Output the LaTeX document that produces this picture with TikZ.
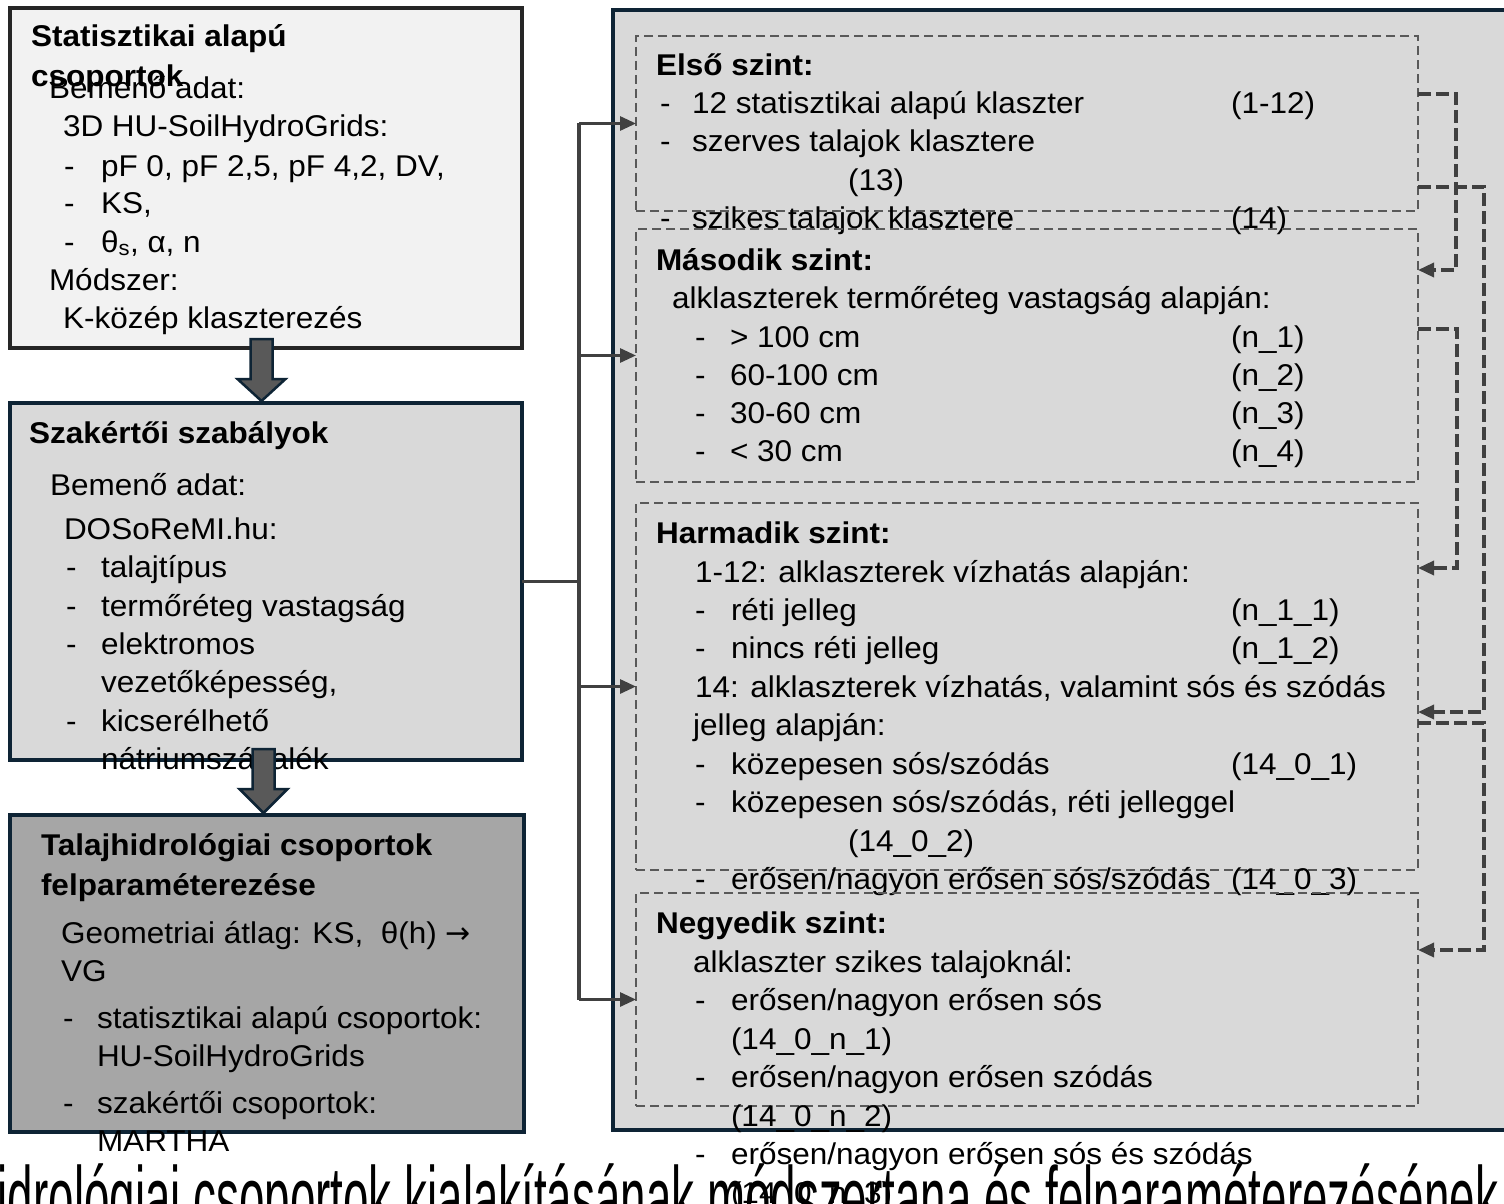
\documentclass[tikz,border=0pt]{standalone}
\usepackage{fontspec}
\setmainfont{Liberation Sans}[FakeStretch=1.05]
\newfontfamily\bigfont{Liberation Sans}[FakeStretch=0.52]
\newfontfamily\arrfont{DejaVu Sans}
\usetikzlibrary{arrows.meta,calc}
\definecolor{navy}{HTML}{0E2435}
\definecolor{fillA}{HTML}{F2F2F2}
\definecolor{fillB}{HTML}{D9D9D9}
\definecolor{fillC}{HTML}{A6A6A6}
\definecolor{arrfill}{HTML}{595959}
\definecolor{linec}{HTML}{404040}
\definecolor{dashc}{HTML}{595959}
\begin{document}
\begin{tikzpicture}[x=1pt,y=-1pt,
  box/.style={line width=4pt, anchor=north west, inner sep=0pt, outer sep=0pt},
  lvl/.style={draw=dashc, line width=1.8pt, dash pattern=on 9pt off 5pt, anchor=north west, inner sep=0pt, outer sep=0pt},
  tx/.style={anchor=base west, inner sep=0pt, outer sep=0pt, font=\fontsize{30}{34}\selectfont},
  bt/.style={anchor=base west, inner sep=0pt, outer sep=0pt, font=\fontsize{30}{34}\selectfont\bfseries},
  blk/.style={fill=arrfill, draw=navy, line width=2.5pt, line join=miter},
  trunk/.style={draw=linec, line width=3.5pt},
  tarr/.style={draw=linec, line width=3pt, -{Triangle[length=16pt,width=14pt]}},
  feed/.style={draw=linec, line width=3.5pt, dash pattern=on 13pt off 5pt, -{Triangle[length=16pt,width=14pt]}}
]
\useasboundingbox (0,0) rectangle (1504,1204);
\clip (0,0) rectangle (1504,1204);
\fill[white] (0,0) rectangle (1504,1204);

% bottom caption (cut off)
\node[anchor=base west, inner sep=0pt, font=\bigfont\fontsize{88}{90}\selectfont] (cap) at (-122,1228) {Talajhidrológiai csoportok kialakításának módszertana és felparaméterezésének lépései};

% right panel
\node[box, draw=navy, fill=fillB, minimum width=1000pt, minimum height=1120pt] (panel) at (613,10) {};

% ---------- left boxes ----------
\node[box, draw=black!85, fill=fillA, minimum width=512pt, minimum height=340pt] (b1) at (10,8) {};
\node[bt] (a1) at (31,47) {Statisztikai alapú};
\node[bt] (a2) at (31,87) {csoportok};
\node[tx] (a3) at (49,99) {Bemenő adat:};
\node[tx] (a4) at (63,137) {3D HU-SoilHydroGrids:};
\node[tx] (a5d) at (64,176) {-};
\node[tx] (a5) at (101,176) {pF 0, pF 2,5, pF 4,2, DV,};
\node[tx] (a6d) at (64,213) {-};
\node[tx] (a6) at (101,213) {KS,};
\node[tx] (a7d) at (64,252) {-};
\node[tx] (a7) at (101,252) {θ\textsubscript{s}, α, n};
\node[tx] (a8) at (49,290) {Módszer:};
\node[tx] (a9) at (63,328) {K-közép klaszterezés};

\node[box, draw=navy, fill=fillB, minimum width=512pt, minimum height=357pt] (b2) at (10,403) {};
\node[bt] (c1) at (29,443) {Szakértői szabályok};
\node[tx] (c2) at (50,495) {Bemenő adat:};
\node[tx] (c3) at (64,539) {DOSoReMI.hu:};
\node[tx] (c4d) at (66,577) {-};
\node[tx] (c4) at (101,577) {talajtípus};
\node[tx] (c5d) at (66,616) {-};
\node[tx] (c5) at (101,616) {termőréteg vastagság};
\node[tx] (c6d) at (66,654) {-};
\node[tx] (c6) at (101,654) {elektromos};
\node[tx] (c7) at (101,692) {vezetőképesség,};
\node[tx] (c8d) at (66,731) {-};
\node[tx] (c8) at (101,731) {kicserélhető};
\node[tx] (c9) at (101,769) {nátriumszázalék};

\node[box, draw=navy, fill=fillC, minimum width=514pt, minimum height=317pt] (b3) at (10,815) {};
\node[bt] (d1) at (41,855) {Talajhidrológiai csoportok};
\node[bt] (d2) at (41,895) {felparaméterezése};
\node[tx] (d3) at (61,943) {Geometriai átlag: KS,\ \ θ(h) {\arrfont →}};
\node[tx] (d4) at (61,981) {VG};
\node[tx] (d5d) at (63,1028) {-};
\node[tx] (d5) at (97,1028) {statisztikai alapú csoportok:};
\node[tx] (d6) at (97,1066) {HU-SoilHydroGrids};
\node[tx] (d7d) at (63,1113) {-};
\node[tx] (d7) at (97,1113) {szakértői csoportok:};
\node[tx] (d8) at (97,1151) {MARTHA};

% block arrows
\draw[blk] (250.5,339) -- (272.5,339) -- (272.5,379) -- (285.5,379) -- (261.5,401) -- (237.5,379) -- (250.5,379) -- cycle;
\draw[blk] (252.5,749) -- (274.5,749) -- (274.5,789) -- (287.5,789) -- (263.5,813) -- (239.5,789) -- (252.5,789) -- cycle;

% ---------- level 1 ----------
\node[lvl, minimum width=782pt, minimum height=175pt] (l1) at (636,36) {};
\node[bt] (e1) at (656,76) {Első szint:};
\node[tx] (e2d) at (660,114) {-};
\node[tx] (e2) at (692,114) {12 statisztikai alapú klaszter};
\node[tx] (e2c) at (1231,114) {(1-12)};
\node[tx] (e3d) at (660,152) {-};
\node[tx] (e3) at (692,152) {szerves talajok klasztere};
\node[tx] (e4) at (848,190) {(13)};
\node[tx] (e5d) at (660,228) {-};
\node[tx] (e5) at (692,228) {szikes talajok klasztere};
\node[tx] (e5c) at (1231,228) {(14)};

% ---------- level 2 ----------
\node[lvl, minimum width=782pt, minimum height=253pt] (l2) at (636,229) {};
\node[bt] (f1) at (656,270) {Második szint:};
\node[tx] (f2) at (672,308) {alklaszterek termőréteg vastagság alapján:};
\node[tx] (f3d) at (695,347) {-};
\node[tx] (f3) at (730,347) {> 100 cm};
\node[tx] (f3c) at (1231,347) {(n\_1)};
\node[tx] (f4d) at (695,385) {-};
\node[tx] (f4) at (730,385) {60-100 cm};
\node[tx] (f4c) at (1231,385) {(n\_2)};
\node[tx] (f5d) at (695,423) {-};
\node[tx] (f5) at (730,423) {30-60 cm};
\node[tx] (f5c) at (1231,423) {(n\_3)};
\node[tx] (f6d) at (695,461) {-};
\node[tx] (f6) at (730,461) {< 30 cm};
\node[tx] (f6c) at (1231,461) {(n\_4)};

% ---------- level 3 ----------
\node[lvl, minimum width=782pt, minimum height=367pt] (l3) at (636,503) {};
\node[bt] (g1) at (656,543) {Harmadik szint:};
\node[tx] (g2) at (695,582) {1-12: alklaszterek vízhatás alapján:};
\node[tx] (g3d) at (695,620) {-};
\node[tx] (g3) at (731,620) {réti jelleg};
\node[tx] (g3c) at (1231,620) {(n\_1\_1)};
\node[tx] (g4d) at (695,658) {-};
\node[tx] (g4) at (731,658) {nincs réti jelleg};
\node[tx] (g4c) at (1231,658) {(n\_1\_2)};
\node[tx] (g5) at (695,697) {14: alklaszterek vízhatás, valamint sós és szódás};
\node[tx] (g6) at (693,735) {jelleg alapján:};
\node[tx] (g7d) at (695,774) {-};
\node[tx] (g7) at (731,774) {közepesen sós/szódás};
\node[tx] (g7c) at (1231,774) {(14\_0\_1)};
\node[tx] (g8d) at (695,812) {-};
\node[tx] (g8) at (731,812) {közepesen sós/szódás, réti jelleggel};
\node[tx] (g9) at (848,851) {(14\_0\_2)};
\node[tx] (g10d) at (695,889) {-};
\node[tx] (g10) at (731,889) {erősen/nagyon erősen sós/szódás};
\node[tx] (g10c) at (1231,889) {(14\_0\_3)};

% ---------- level 4 ----------
\node[lvl, minimum width=782pt, minimum height=213pt] (l4) at (636,893) {};
\node[bt] (h1) at (656,933) {Negyedik szint:};
\node[tx] (h2) at (693,972) {alklaszter szikes talajoknál:};
\node[tx] (h3d) at (695,1010) {-};
\node[tx] (h3) at (731,1010) {erősen/nagyon erősen sós};
\node[tx] (h4) at (731,1049) {(14\_0\_n\_1)};
\node[tx] (h5d) at (695,1087) {-};
\node[tx] (h5) at (731,1087) {erősen/nagyon erősen szódás};
\node[tx] (h6) at (731,1126) {(14\_0\_n\_2)};
\node[tx] (h7d) at (695,1164) {-};
\node[tx] (h7) at (731,1164) {erősen/nagyon erősen sós és szódás};
\node[tx] (h8) at (731,1203) {(14\_0\_n\_3)};

% ---------- trunk connector ----------
\draw[trunk] (b2.east) -- ($(b2.east)+(57,0)$) coordinate (j);
\draw[trunk] (j |- l1.west) -- (j |- l4.west);
\draw[tarr] (j |- l1.west) -- (l1.west);
\draw[tarr] (j |- l2.west) -- (l2.west);
\draw[tarr] (j |- l3.west) -- (l3.west);
\draw[tarr] (j |- l4.west) -- (l4.west);

% ---------- feedback connectors ----------
\draw[feed] ($(l1.north east)+(0,58)$) -- ++(38,0) |- ($(l2.north east)+(0,41)$);
\draw[feed] ($(l1.north east)+(0,151)$) -- ++(66,0) |- ($(l3.north east)+(0,209)$);
\draw[feed] ($(l2.north east)+(0,100)$) -- ++(39,0) |- ($(l3.north east)+(0,65)$);
\draw[feed] ($(l3.north east)+(0,220)$) -- ++(66,0) |- ($(l4.north east)+(0,57)$);
\end{tikzpicture}
\end{document}
